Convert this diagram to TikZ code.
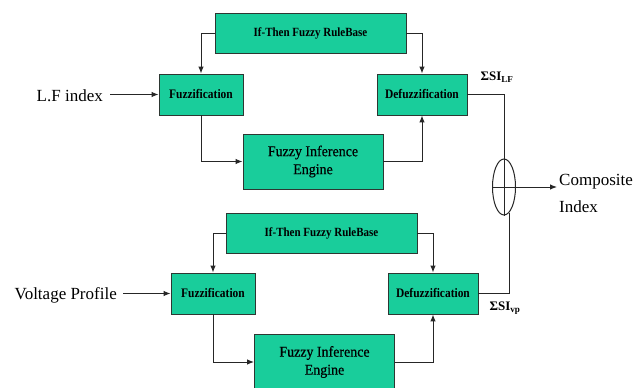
\documentclass[tikz,border=0pt]{standalone}
\usepackage{fontspec}
\setmainfont{Liberation Serif}
\newfontfamily\condfont[FakeStretch=0.88]{Liberation Serif}
\newfontfamily\fiefont[FakeStretch=0.93,FakeBold=0.6]{Liberation Serif}
\usetikzlibrary{arrows.meta,shapes.geometric}
\definecolor{boxgreen}{RGB}{25,205,155}
\definecolor{boxedge}{RGB}{45,55,50}
\tikzset{
  blk/.style={draw=boxedge, line width=0.9pt, fill=boxgreen, rectangle, inner sep=0pt, align=center},
  rulebox/.style={blk, minimum width=191pt, minimum height=40pt, font=\condfont\fontsize{12.5}{13}\selectfont\bfseries},
  fuzbox/.style={blk, minimum width=84pt, minimum height=41pt, font=\condfont\fontsize{13}{15}\selectfont\bfseries},
  defbox/.style={blk, minimum width=90pt, minimum height=41pt, font=\condfont\fontsize{13}{15}\selectfont\bfseries},
  fiebox/.style={blk, minimum width=140pt, minimum height=55pt, font=\fiefont\fontsize{15}{18}\selectfont},
  conn/.style={line width=1pt, draw=black!85},
  arr/.style={conn, -{Latex[length=7pt,width=5.5pt]}},
  lbl/.style={font=\fontsize{17}{27}\selectfont, inner sep=0pt},
  sumlbl/.style={font=\fontsize{13}{15}\selectfont\bfseries, inner sep=0pt}
}
\begin{document}
\begin{tikzpicture}[x=1pt,y=-1pt]
\useasboundingbox[fill=white] (0,0) rectangle (638,388);
\begin{scope}
\clip (0,0) rectangle (638,388);
% upper chain
\node[rulebox] (rb1) at (310.5,33) {If-Then Fuzzy RuleBase};
\node[fuzbox] (fz1) at (201,94.5) {Fuzzification};
\node[defbox] (df1) at (422,94.5) {Defuzzification};
\node[fiebox] (fie1) at (313,161.5) {Fuzzy Inference\\Engine};
% lower chain
\node[rulebox] (rb2) at (321.5,233) {If-Then Fuzzy RuleBase};
\node[fuzbox] (fz2) at (213,293.5) {Fuzzification};
\node[defbox] (df2) at (433,293.5) {Defuzzification};
\node[fiebox, minimum height=56pt] (fie2) at (324.5,362) {Fuzzy Inference\\Engine};
\end{scope}
% inputs
\node[lbl, anchor=east] (lf) at (103,96) {L.F index};
\node[lbl, anchor=east] (vp) at (117,295) {Voltage Profile};
\draw[arr] ([xshift=7pt]lf.east |- fz1.west) -- (fz1.west);
\draw[arr] ([xshift=6pt]vp.east |- fz2.west) -- (fz2.west);
% upper connectors
\draw[arr] (rb1.west) -| (fz1.north);
\draw[arr] (rb1.east) -| (df1.north);
\draw[arr] (fz1.south) |- (fie1.west);
\draw[arr] (fie1.east) -| (df1.south);
% lower connectors
\draw[arr] (rb2.west) -| (fz2.north);
\draw[arr] (rb2.east) -| (df2.north);
\draw[arr] (fz2.south) |- (fie2.west);
\draw[arr] (fie2.east) -| (df2.south);
% summing junction
\node[draw=black!85, line width=1pt, ellipse, minimum width=23pt, minimum height=56pt, inner sep=0pt] (sum) at (504,187) {};
\draw[conn] (sum.north) -- (sum.south);
\draw[conn] (sum.west) -- (sum.east);
\draw[conn] (df1.east) -| (sum.north);
\draw[conn] (sum.-79) |- (df2.east);
\node[lbl, anchor=west, align=left, inner xsep=2pt] (comp) at (557,193.5) {Composite\\Index};
\draw[arr] (sum.east) -- (sum.east -| comp.west);
\node[sumlbl] (slf) at (497,77) {ΣSI\textsubscript{LF}};
\node[sumlbl] (svp) at (505,308) {ΣSI\textsubscript{vp}};
\end{tikzpicture}
\end{document}
